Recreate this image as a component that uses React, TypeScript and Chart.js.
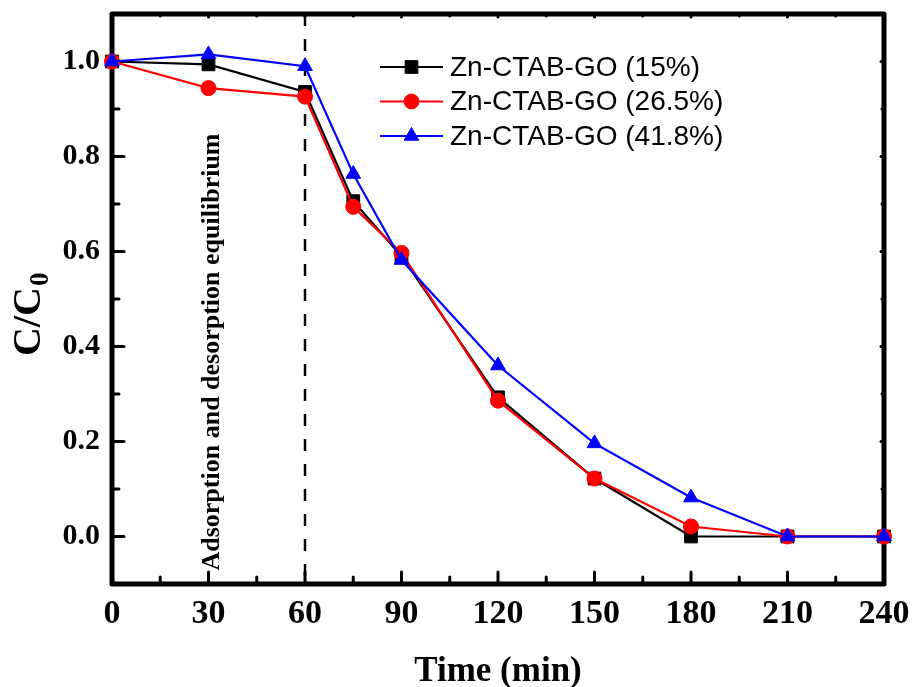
import React, { useEffect, useRef } from 'react';
import { Chart, registerables } from 'chart.js';

Chart.register(...registerables);

// ---- data ----
const times = [0, 30, 60, 75, 90, 120, 150, 180, 210, 240];
const series15 = [1.0, 0.994, 0.936, 0.706, 0.59, 0.293, 0.122, 0.0, 0.0, 0.0];
const series265 = [1.0, 0.944, 0.926, 0.694, 0.597, 0.286, 0.122, 0.021, 0.0, 0.0];
const series418 = [1.0, 1.015, 0.99, 0.763, 0.582, 0.36, 0.196, 0.082, 0.0, 0.0];
const seriesLabels = ['Zn-CTAB-GO (15%)', 'Zn-CTAB-GO (26.5%)', 'Zn-CTAB-GO (41.8%)'];
const seriesColors = ['#000000', '#ff0000', '#0000ff'];
const seriesStyles = ['rect', 'circle', 'triangle'];
const xTicks = [0, 30, 60, 90, 120, 150, 180, 210, 240];
const xMinorTicks = [15, 45, 75, 105, 135, 165, 195, 225];
const yTicks = [0.0, 0.2, 0.4, 0.6, 0.8, 1.0];
const yMinorTicks = [0.1, 0.3, 0.5, 0.7, 0.9];
const equilibriumTime = 60;
const annotationText = 'Adsorption and desorption equilibrium';
const xTitle = 'Time (min)';
const yTitleMain = 'C/C';
const yTitleSub = '0';

const SERIF = '"Liberation Serif", "Times New Roman", serif';
const SANS = '"Liberation Sans", Arial, sans-serif';

function drawMarker(ctx: CanvasRenderingContext2D, style: string, x: number, y: number, color: string) {
  ctx.save();
  ctx.fillStyle = color;
  ctx.strokeStyle = color;
  ctx.lineWidth = 1;
  ctx.beginPath();
  if (style === 'rect') {
    const s = 9 * Math.SQRT1_2;
    ctx.rect(x - s, y - s, 2 * s, 2 * s);
  } else if (style === 'circle') {
    ctx.arc(x, y, 7.5, 0, Math.PI * 2);
  } else {
    const r = 8.5;
    let a = 0;
    ctx.moveTo(x + Math.sin(a) * r, y - Math.cos(a) * r);
    a += (2 * Math.PI) / 3;
    ctx.lineTo(x + Math.sin(a) * r, y - Math.cos(a) * r);
    a += (2 * Math.PI) / 3;
    ctx.lineTo(x + Math.sin(a) * r, y - Math.cos(a) * r);
    ctx.closePath();
  }
  ctx.fill();
  ctx.stroke();
  ctx.restore();
}

const decorPlugin = {
  id: 'decor',
  beforeDatasetsDraw(chart: any) {
    const { ctx, chartArea } = chart;
    const xs = chart.scales.x;
    const ys = chart.scales.y;
    const { left, right, top, bottom } = chartArea;
    ctx.save();

    // annotation text (rotated)
    ctx.save();
    ctx.fillStyle = '#000';
    ctx.font = `bold 26px ${SERIF}`;
    ctx.textAlign = 'center';
    ctx.textBaseline = 'alphabetic';
    ctx.translate(left + 107, top + 338);
    ctx.rotate(-Math.PI / 2);
    ctx.fillText(annotationText, 0, 0);
    ctx.restore();

    // dashed line
    const dx = xs.getPixelForValue(equilibriumTime);
    ctx.strokeStyle = '#000';
    ctx.lineWidth = 2.5;
    ctx.setLineDash([12, 13]);
    ctx.beginPath();
    ctx.moveTo(dx, top);
    ctx.lineTo(dx, bottom);
    ctx.stroke();
    ctx.setLineDash([]);

    // frame
    ctx.lineWidth = 5;
    ctx.strokeStyle = '#000';
    ctx.lineJoin = 'round';
    ctx.strokeRect(left, top, right - left, bottom - top);

    // ticks
    ctx.lineWidth = 3;
    ctx.lineCap = 'round';
    const tick = (x1: number, y1: number, x2: number, y2: number) => {
      ctx.beginPath();
      ctx.moveTo(x1, y1);
      ctx.lineTo(x2, y2);
      ctx.stroke();
    };
    xTicks.forEach((v) => {
      const px = xs.getPixelForValue(v);
      tick(px, bottom, px, bottom - 12);
      tick(px, top, px, top + 3);
    });
    xMinorTicks.forEach((v) => {
      const px = xs.getPixelForValue(v);
      tick(px, bottom, px, bottom - 7);
      tick(px, top, px, top + 2);
    });
    yTicks.forEach((v) => {
      const py = ys.getPixelForValue(v);
      tick(left, py, left + 12, py);
      tick(right, py, right - 3, py);
    });
    yMinorTicks.forEach((v) => {
      const py = ys.getPixelForValue(v);
      tick(left, py, left + 7, py);
      tick(right, py, right - 2, py);
    });
    ctx.restore();
  },
  afterDraw(chart: any) {
    const { ctx, chartArea } = chart;
    const { left, right, top, bottom } = chartArea;
    ctx.save();
    ctx.fillStyle = '#000';

    // x title
    ctx.font = `bold 35px ${SERIF}`;
    ctx.textAlign = 'center';
    ctx.textBaseline = 'alphabetic';
    ctx.fillText(xTitle, (left + right) / 2, bottom + 97);

    // y title with subscript
    ctx.save();
    ctx.translate(40, top + 342);
    ctx.rotate(-Math.PI / 2);
    ctx.textAlign = 'left';
    ctx.font = `bold 40px ${SERIF}`;
    ctx.fillText(yTitleMain, 0, 0);
    const w = ctx.measureText(yTitleMain).width;
    ctx.font = `bold 27px ${SERIF}`;
    ctx.fillText(yTitleSub, w + 1, 8);
    ctx.restore();

    // legend
    const lx0 = left + 268;
    const lx1 = left + 331;
    const rowY = [top + 53, top + 87.5, top + 122];
    seriesLabels.forEach((lab, i) => {
      const y = rowY[i];
      ctx.strokeStyle = seriesColors[i];
      ctx.lineWidth = 2.2;
      ctx.beginPath();
      ctx.moveTo(lx0, y);
      ctx.lineTo(lx1, y);
      ctx.stroke();
      drawMarker(ctx, seriesStyles[i], (lx0 + lx1) / 2, y, seriesColors[i]);
      ctx.fillStyle = '#000';
      ctx.font = `28px ${SANS}`;
      ctx.textAlign = 'left';
      ctx.textBaseline = 'middle';
      ctx.fillText(lab, lx1 + 7, y + 1);
    });
    ctx.restore();
  },
};

export default function App() {
  const ref = useRef<HTMLCanvasElement | null>(null);
  useEffect(() => {
    if (!ref.current) return;
    const allSeries = [series15, series265, series418];
    const datasets = allSeries.map((s, i) => ({
      label: seriesLabels[i],
      data: times.map((t, j) => ({ x: t, y: s[j] })),
      borderColor: seriesColors[i],
      backgroundColor: seriesColors[i],
      pointBackgroundColor: seriesColors[i],
      pointBorderColor: seriesColors[i],
      pointStyle: seriesStyles[i] as any,
      pointRadius: seriesStyles[i] === 'rect' ? 9 : seriesStyles[i] === 'circle' ? 7.5 : 8.5,
      pointBorderWidth: 1,
      borderWidth: 2.2,
      tension: 0,
      clip: false as any,
      order: 3 - i,
    }));
    const chart = new Chart(ref.current, {
      type: 'line',
      data: { datasets },
      options: {
        responsive: false,
        animation: false,
        layout: { padding: { top: 14, right: 31, left: 0, bottom: 0 } },
        plugins: { legend: { display: false }, tooltip: { enabled: false } },
        scales: {
          x: {
            type: 'linear',
            min: 0,
            max: 240,
            afterBuildTicks: (s: any) => {
              s.ticks = xTicks.map((v) => ({ value: v }));
            },
            afterFit: (s: any) => {
              s.height = 103;
              s.paddingLeft = 0;
              s.paddingRight = 0;
              s.paddingTop = 0;
              s.paddingBottom = 0;
            },
            grid: { display: false, drawTicks: false },
            border: { display: false },
            ticks: {
              color: '#000',
              font: { family: SERIF, size: 34, weight: 'bold' },
              padding: 10,
              maxRotation: 0,
              autoSkip: false,
              callback: (v: any) => String(v),
            },
          },
          y: {
            type: 'linear',
            min: -0.1,
            max: 1.1,
            afterBuildTicks: (s: any) => {
              s.ticks = yTicks.map((v) => ({ value: v }));
            },
            afterFit: (s: any) => {
              s.width = 112;
              s.paddingLeft = 0;
              s.paddingRight = 0;
              s.paddingTop = 0;
              s.paddingBottom = 0;
            },
            grid: { display: false, drawTicks: false },
            border: { display: false },
            ticks: {
              color: '#000',
              font: { family: SERIF, size: 30, weight: 'bold' },
              padding: 12,
              autoSkip: false,
              callback: (v: any) => Number(v).toFixed(1),
            },
          },
        },
      },
      plugins: [decorPlugin],
    });
    return () => chart.destroy();
  }, []);
  return (
    <div style={{ position: 'fixed', left: 0, top: 0, width: 915, height: 687, background: '#fff' }}>
      <canvas ref={ref} width={915} height={687} style={{ display: 'block' }} />
    </div>
  );
}
